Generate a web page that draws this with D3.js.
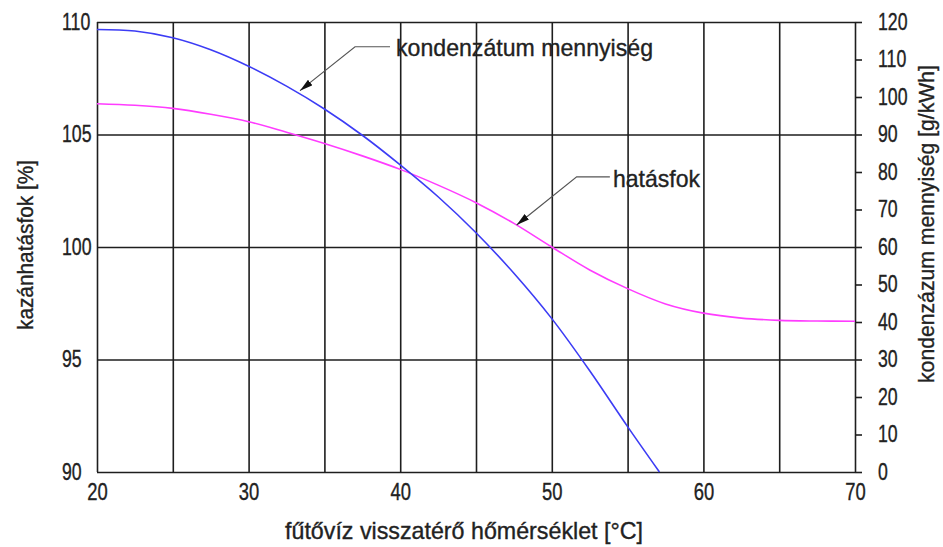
<!DOCTYPE html>
<html>
<head>
<meta charset="utf-8">
<script src="https://cdn.jsdelivr.net/npm/d3@7"></script>
<style>
  body { margin: 0; background: #fff; }
  text { font-family: "Liberation Sans", Arial, sans-serif; fill: #222; stroke: #222; stroke-width: 0.35px; }
</style>
</head>
<body>
<div class="chart"></div>
<script>
// kazán hatásfok / kondenzátum mennyiség
var width = 943;
var height = 547;

// x: return water temperature [°C]
var xTicks = [20, 30, 40, 50, 60, 70];
var xGrid = [20, 25, 30, 35, 40, 45, 50, 55, 60, 65, 70];
var leftTicks = [90, 95, 100, 105, 110];
var rightTicks = [0, 10, 20, 30, 40, 50, 60, 70, 80, 90, 100, 110, 120];

// hatásfok [%] (left axis)
var effTemp = [20, 22.5, 25, 27.5, 30, 32.5, 35, 37.5, 40, 42.5, 45, 47.5, 50, 52.5, 55, 57.5, 60, 62.5, 65, 67.5, 70];
var effValue = [106.37, 106.3, 106.16, 105.9, 105.57, 105.1, 104.6, 104.05, 103.45, 102.75, 101.97, 101.05, 100.0, 98.98, 98.15, 97.47, 97.06, 96.84, 96.74, 96.71, 96.7];

// kondenzátum mennyiség [g/kWh] (right axis)
var condTemp = [20, 22.5, 25, 27.5, 30, 32.5, 35, 37.5, 40, 42.5, 45, 47.5, 50, 52.5, 55, 57.1];
var condValue = [118, 117.6, 115.8, 112.6, 108.2, 102.9, 96.8, 89.8, 81.9, 73.4, 63.8, 53.0, 40.9, 27.0, 12.1, 0];

var margin = {left: 97, right: 88, top: 22, bottom: 75};
var w = width - margin.left - margin.right;
var h = height - margin.top - margin.bottom;

var x = d3.scaleLinear().domain([20, 70]).range([0, w]);
var yL = d3.scaleLinear().domain([90, 110]).range([h, 0]);
var yR = d3.scaleLinear().domain([0, 120]).range([h, 0]);

var svg = d3.select(".chart")
    .append("svg")
    .attr("width", width)
    .attr("height", height);

var g = svg.append("g")
    .attr("transform", "translate(" + margin.left + "," + margin.top + ")");

// squeeze text a bit, the original font is a narrow one
function narrow(sel, k) {
    sel.each(function () {
        var len = this.getComputedTextLength();
        this.setAttribute("textLength", len * k);
        this.setAttribute("lengthAdjust", "spacingAndGlyphs");
    });
}

var gridColor = "#1e1e1e";

// vertical grid
g.append("g")
    .attr("class", "x grid")
    .attr("transform", "translate(0," + h + ")")
    .call(d3.axisBottom(x).tickValues(xGrid).tickSize(-h).tickFormat(""))
    .call(function (s) { s.select(".domain").remove(); })
    .selectAll("line")
    .style("stroke", gridColor)
    .style("stroke-width", "1.6");

// horizontal grid + left labels
var leftAxis = g.append("g")
    .attr("class", "y axis")
    .call(d3.axisLeft(yL).tickValues(leftTicks).tickSize(-w).tickPadding(0))
    .call(function (s) { s.select(".domain").remove(); });

leftAxis.selectAll("line")
    .style("stroke", gridColor)
    .style("stroke-width", "1.6");

leftAxis.selectAll("text")
    .attr("x", -35)
    .attr("text-anchor", "start")
    .style("font-size", "23px")
    .style("font-family", "Liberation Sans, Arial, sans-serif")
    .style("fill", "#222")
    .call(narrow, 0.77);

// bottom labels
var bottomAxis = g.append("g")
    .attr("class", "x axis")
    .attr("transform", "translate(0," + h + ")")
    .call(d3.axisBottom(x).tickValues(xTicks).tickSize(0).tickPadding(12))
    .call(function (s) { s.select(".domain").remove(); });

bottomAxis.selectAll("text")
    .style("font-size", "23px")
    .style("font-family", "Liberation Sans, Arial, sans-serif")
    .style("fill", "#222")
    .call(narrow, 0.8);

// right axis
var rightAxis = g.append("g")
    .attr("class", "y axis right")
    .attr("transform", "translate(" + w + ",0)")
    .call(d3.axisRight(yR).tickValues(rightTicks).tickSize(7).tickSizeOuter(0).tickPadding(16))
    .call(function (s) { s.select(".domain").remove(); });

rightAxis.selectAll("line")
    .style("stroke", gridColor)
    .style("stroke-width", "1.6");

rightAxis.selectAll("text")
    .attr("text-anchor", "start")
    .style("font-size", "23px")
    .style("font-family", "Liberation Sans, Arial, sans-serif")
    .style("fill", "#222")
    .call(narrow, 0.77);

// curves
var effLine = d3.line()
    .x(function (d, i) { return x(effTemp[i]); })
    .y(function (d) { return yL(d); })
    .curve(d3.curveCatmullRom);

var condLine = d3.line()
    .x(function (d, i) { return x(condTemp[i]); })
    .y(function (d) { return yR(d); })
    .curve(d3.curveCatmullRom);

g.append("path")
    .datum(effValue)
    .attr("d", effLine)
    .style("fill", "none")
    .style("stroke", "#ff3cff")
    .style("stroke-width", "1.6");

g.append("path")
    .datum(condValue)
    .attr("d", condLine)
    .style("fill", "none")
    .style("stroke", "#3c3cf5")
    .style("stroke-width", "1.6");

// leader arrows
svg.append("defs")
    .append("marker")
    .attr("id", "arrow")
    .attr("viewBox", "0 0 13 7")
    .attr("refX", 13)
    .attr("refY", 3.5)
    .attr("markerWidth", 13)
    .attr("markerHeight", 7)
    .attr("markerUnits", "userSpaceOnUse")
    .attr("orient", "auto-start-reverse")
    .append("path")
    .attr("d", "M0,0 L13,3.5 L0,7 Z")
    .style("fill", "#111");

var leader = d3.line();

// [temp, value] from label end to the curve
var condLeader = [[39.33, 113.4], [37.02, 113.4], [33.39, 101.7]];
var effLeader = [[53.83, 103.12], [51.64, 103.12], [47.68, 100.98]];

g.append("path")
    .attr("d", leader(condLeader.map(function (p) { return [x(p[0]), yR(p[1])]; })))
    .attr("marker-end", "url(#arrow)")
    .style("fill", "none")
    .style("stroke", "#555")
    .style("stroke-width", "1.2");

g.append("path")
    .attr("d", leader(effLeader.map(function (p) { return [x(p[0]), yL(p[1])]; })))
    .attr("marker-end", "url(#arrow)")
    .style("fill", "none")
    .style("stroke", "#555")
    .style("stroke-width", "1.2");

svg.append("text")
    .attr("x", 396)
    .attr("y", 56)
    .style("font-size", "24px")
    .attr("textLength", 257)
    .attr("lengthAdjust", "spacingAndGlyphs")
    .text("kondenzátum mennyiség");

svg.append("text")
    .attr("x", 613)
    .attr("y", 187)
    .style("font-size", "24px")
    .attr("textLength", 87)
    .attr("lengthAdjust", "spacingAndGlyphs")
    .text("hatásfok");

// axis titles
svg.append("text")
    .attr("x", 464)
    .attr("y", 539)
    .attr("text-anchor", "middle")
    .style("font-size", "24px")
    .attr("textLength", 358)
    .attr("lengthAdjust", "spacingAndGlyphs")
    .text("fűtővíz visszatérő hőmérséklet [°C]");

svg.append("text")
    .attr("transform", "translate(33,245) rotate(-90)")
    .attr("text-anchor", "middle")
    .style("font-size", "22px")
    .attr("textLength", 170)
    .attr("lengthAdjust", "spacingAndGlyphs")
    .text("kazánhatásfok [%]");

svg.append("text")
    .attr("transform", "translate(934,224) rotate(-90)")
    .attr("text-anchor", "middle")
    .style("font-size", "22px")
    .attr("textLength", 318)
    .attr("lengthAdjust", "spacingAndGlyphs")
    .text("kondenzázum mennyiség [g/kWh]");
</script>
</body>
</html>
